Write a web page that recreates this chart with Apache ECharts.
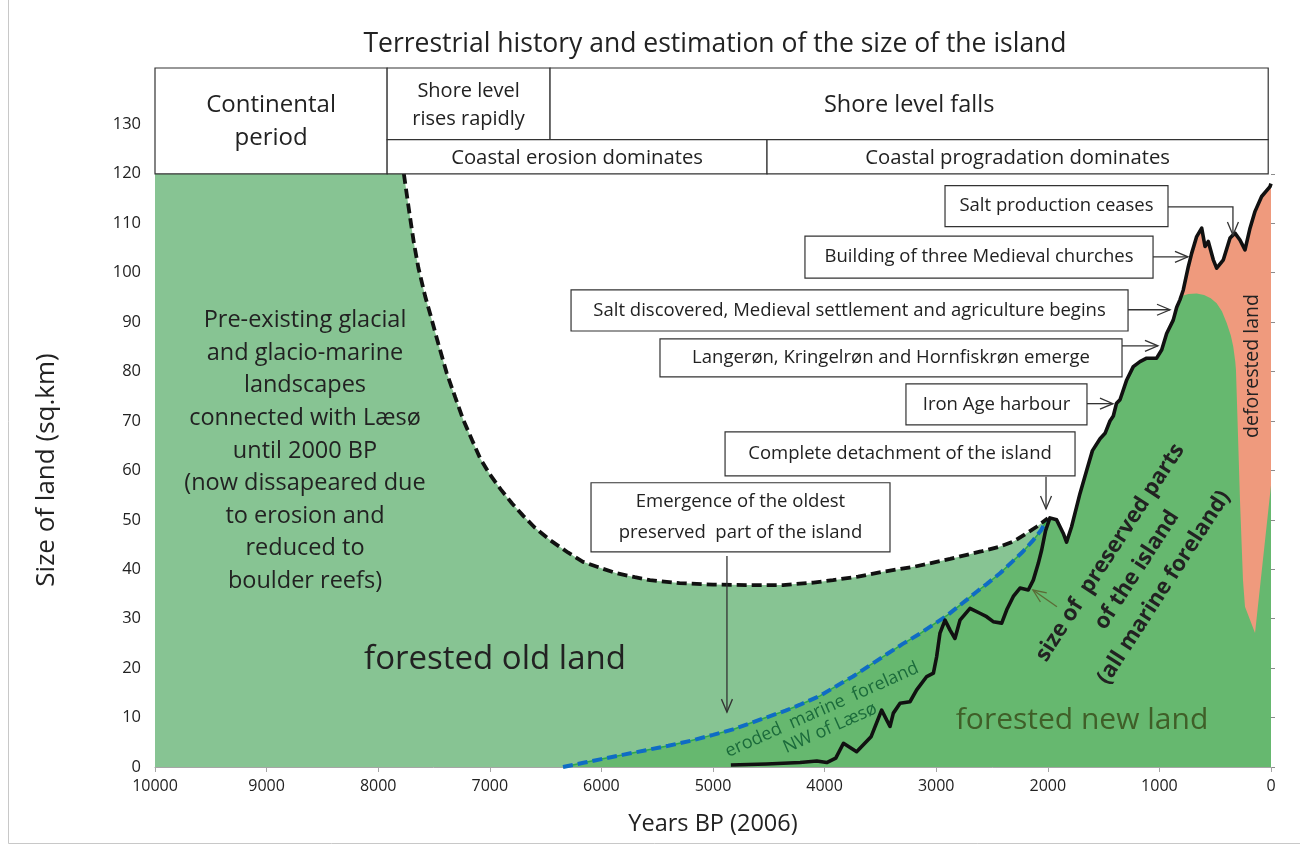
<!DOCTYPE html>
<html><head><meta charset="utf-8">
<script src="https://cdn.jsdelivr.net/npm/echarts@6/dist/echarts.min.js"></script>
<style>html,body{margin:0;padding:0;background:#fff}#c{width:1300px;height:844px}</style>
</head><body><div id="c"></div>
<script>
// ---------------- DATA (years BP, size of land in sq.km) ----------------
// Dashed black: pre-existing glacial landscape (forested old land) boundary
const oldLandEdge = [
  [7770,120],[7720,112],[7680,106],[7640,101],[7580,95.3],[7536,91.8],[7460,85.5],[7386,79.7],
  [7310,74.8],[7237,70.2],[7160,66.2],[7088,62.5],[7000,59.2],[6900,56.1],[6800,53.3],[6700,50.8],
  [6600,48.5],[6461,45.9],[6300,43.4],[6165,41.5],[6000,40.2],[5863,39.2],[5700,38.4],[5565,37.8],
  [5300,37.2],[5000,36.9],[4700,36.8],[4373,36.8],[4100,37.3],[3925,37.8],[3700,38.5],[3477,39.5],
  [3200,40.5],[2876,42.1],[2600,43.6],[2428,44.6],[2300,45.7],[2189,47.3],[2100,48.6],[2000,50.3]
];
const oldLandStart = [[10000,120]];
// Blue dashed: eroded marine foreland NW of Læsø
const erodedForeland = [
  [6344,0],[6150,0.9],[6000,1.6],[5800,2.5],[5600,3.4],[5400,4.3],[5200,5.3],[5000,6.5],
  [4821,7.6],[4650,9.0],[4500,10.2],[4350,11.4],[4220,12.6],[4041,14.4],[3900,16.3],[3746,18.3],
  [3600,20.5],[3444,22.8],[3300,24.9],[3145,27.0],[3020,28.9],[2906,30.6],[2800,32.5],[2727,33.8],
  [2640,35.4],[2548,37.0],[2428,39.2],[2320,41.5],[2222,43.6],[2130,45.9],[2060,47.9],[2010,50]
];
// Solid black: size of the island
const islandSize = [
  [4840,0.4],[4520,0.6],[4220,0.9],[4070,1.2],[3981,0.9],[3900,1.8],[3831,4.8],[3713,3.1],
  [3584,6.1],[3489,11.5],[3414,8.2],[3384,10.9],[3324,12.9],[3235,13.2],[3175,15.6],[3085,18.3],
  [3025,19.0],[2996,22.3],[2966,27.1],[2921,29.7],[2876,27.7],[2832,26.0],[2787,29.7],[2697,32.1],
  [2608,31.1],[2548,30.4],[2489,29.4],[2413,29.1],[2368,31.8],[2309,34.5],[2249,36.2],[2175,35.8],
  [2130,37.8],[2085,41.2],[2055,43.9],[2020,47.8],[1981,50.4],[1921,50.0],[1862,47.3],[1832,45.5],
  [1787,48.6],[1712,55.3],[1652,60.0],[1600,64.0],[1532,66.4],[1487,67.5],[1443,70.0],[1413,71.0],
  [1384,73.6],[1353,74.3],[1293,78.3],[1234,81.0],[1174,82.0],[1114,82.7],[1025,82.7],[979,84.4],
  [935,87.7],[876,90.4],[845,93.0],[816,94.5],[786,96.5],[741,101.2],[711,103.9],[666,107.3],
  [621,109.0],[591,105.3],[562,106.3],[517,102.6],[487,100.9],[427,102.6],[367,107.0],[323,108.0],
  [278,106.6],[233,104.6],[188,109.0],[143,112.4],[84,115.4],[9,117.4],[0,118.0]
];
// Forested part of the new land after medieval deforestation
const forestedDome = [
  [786,95.4],[740,95.7],[666,95.8],[600,95.5],[540,94.8],[487,93.8],[440,92.2],[397,89.8],
  [360,87.3],[338,85.0],[320,82.0],[314,80.3],[300,70.2],[278,54.0],[251,37.8],[233,32.4],
  [143,27.1],[0,57.0]
];
// Header periods
const periods = [
  {from:10000, to:7920, row:'both',  label:'Continental\nperiod'},
  {from:7920,  to:6460, row:'upper', label:'Shore level\nrises rapidly'},
  {from:6460,  to:25,   row:'upper', label:'Shore level falls'},
  {from:7920,  to:4516, row:'lower', label:'Coastal erosion dominates'},
  {from:4516,  to:25,   row:'lower', label:'Coastal progradation dominates'}
];
// Events
const events = [
  'Salt production ceases',
  'Building of three Medieval churches',
  'Salt discovered, Medieval settlement and agriculture begins',
  'Langerøn, Kringelrøn and Hornfiskrøn emerge',
  'Iron Age harbour',
  'Complete detachment of the island',
  'Emergence of the oldest\npreserved  part of the island'
];
const yTickValues = [0,10,20,30,40,50,60,70,80,90,100,110,120];

// ---------------- LAYOUT / STYLE ----------------
const FONT = '"Open Sans","Noto Sans",sans-serif';
const Y_HEAD_BOTTOM = 120, Y_HEAD_MID = 126.9, Y_TOP = 141.4;
const headerFontSize = [24, 20, 23.5, 20.3, 20.3];
const headerLineHeight = [33, 28, 30, 26, 26];
// event boxes in chart coordinates: [year left, year right, value top, value bottom]
const eventBoxes = [
  [2921, 923, 117.6, 109.3],
  [4176, 1057, 107.4, 98.9],
  [6272, 1281, 96.5, 88.2],
  [5475, 1335, 86.6, 78.9],
  [3271, 1649, 77.5, 69.2],
  [4892, 1756, 67.8, 58.9],
  [6093, 3414, 57.5, 43.5]
];
const eventArrows = [
  {path:[[923,113.3],[341,113.3],[341,107.6]], color:'#333'},
  {path:[[1057,103.2],[744,103.2]], color:'#333'},
  {path:[[1281,92.5],[905,92.5]], color:'#333'},
  {path:[[1335,85.2],[1013,85.2]], color:'#333'},
  {path:[[1649,73.5],[1416,73.5]], color:'#333'},
  {path:[[2016,58.7],[2016,52.2]], color:'#333'},
  {path:[[4875,42.7],[4875,11.1]], color:'#333'},
  {path:[[1918,32.4],[2133,35.8]], color:'#5b6b36'}
];

const LIGHT_GREEN = '#87c493', DARK_GREEN = '#66b86f', SALMON = '#ef9a7d';

const newLandEdge = erodedForeland.concat(
  islandSize.filter(p => p[0] < 2000 && p[0] >= 800), forestedDome);
const deforestedEdge = islandSize.filter(p => p[0] <= 850);
const oldLandArea = oldLandStart.concat(oldLandEdge);

const chart = echarts.init(document.getElementById('c'), null, {renderer:'canvas'});

function txt(text, x, y, size, opts) {
  opts = opts || {};
  return {
    type:'text', x:x, y:y, rotation: opts.rotation || 0, z: 100,
    style:{
      text:text, fill: opts.color || '#222',
      font: (opts.weight ? opts.weight + ' ' : '') + size + 'px ' + FONT,
      textAlign:'center', align:'center', textVerticalAlign:'middle', verticalAlign:'middle',
      lineHeight: opts.lineHeight || Math.round(size*1.3)
    }
  };
}

function renderHeader(params, api) {
  const i = params.dataIndex, p = periods[i];
  const y1 = p.row === 'upper' ? Y_HEAD_MID : Y_HEAD_BOTTOM;
  const y2 = p.row === 'lower' ? Y_HEAD_MID : Y_TOP;
  const a = api.coord([p.from, y2]), b = api.coord([p.to, y1]);
  const x = Math.min(a[0], b[0]), y = Math.min(a[1], b[1]);
  const w = Math.abs(b[0]-a[0]), h = Math.abs(b[1]-a[1]);
  return {type:'group', children:[
    {type:'rect', shape:{x:x, y:y, width:w, height:h}, style:{fill:'#fff', stroke:'#333', lineWidth:1.2}},
    {type:'text', style:{x:x+w/2, y:y+h/2+1, text:p.label, fill:'#222', font: headerFontSize[i]+'px '+FONT,
      textAlign:'center', align:'center', textVerticalAlign:'middle', verticalAlign:'middle',
      lineHeight: headerLineHeight[i]}}
  ]};
}

function renderEvent(params, api) {
  const b = eventBoxes[params.dataIndex];
  const a = api.coord([b[0], b[2]]), c = api.coord([b[1], b[3]]);
  const x = Math.min(a[0], c[0]), y = Math.min(a[1], c[1]);
  const w = Math.abs(c[0]-a[0]), h = Math.abs(c[1]-a[1]);
  return {type:'group', children:[
    {type:'rect', shape:{x:x, y:y, width:w, height:h}, style:{fill:'#fff', stroke:'#333', lineWidth:1.2}},
    {type:'text', style:{x:x+w/2, y:y+h/2, text:events[params.dataIndex], fill:'#222', font:'18.5px '+FONT,
      textAlign:'center', align:'center', textVerticalAlign:'middle', verticalAlign:'middle', lineHeight:31}}
  ]};
}

function renderArrow(params, api) {
  const ar = eventArrows[params.dataIndex];
  const pts = ar.path.map(p => api.coord(p));
  const n = pts.length, tip = pts[n-1], prev = pts[n-2];
  let dx = tip[0]-prev[0], dy = tip[1]-prev[1];
  const len = Math.hypot(dx, dy) || 1; dx /= len; dy /= len;
  const L = 13, W = 5.5;
  const h1 = [tip[0]-L*dx - W*dy, tip[1]-L*dy + W*dx];
  const h2 = [tip[0]-L*dx + W*dy, tip[1]-L*dy - W*dx];
  return {type:'group', children:[
    {type:'polyline', shape:{points:pts}, style:{stroke:ar.color, lineWidth:1.3, fill:'none'}},
    {type:'polyline', shape:{points:[h1, tip, h2]}, style:{stroke:ar.color, lineWidth:1.3, fill:'none'}}
  ]};
}

const option = {
  animation:false,
  backgroundColor:'#fff',
  grid:{left:155, right:29, top:68, bottom:77, containLabel:false},
  xAxis:{
    type:'value', inverse:true, min:0, max:10000, interval:1000,
    axisLine:{show:true, lineStyle:{color:'#a6a6a6', width:1}},
    axisTick:{show:true, length:5, lineStyle:{color:'#a6a6a6'}},
    axisLabel:{color:'#222', fontSize:16, fontFamily:FONT, margin:11, formatter: v => String(v)},
    splitLine:{show:false},
    name:'Years BP (2006)', nameLocation:'middle', nameGap:45,
    nameTextStyle:{color:'#222', fontSize:23.5, fontFamily:FONT}
  },
  yAxis:{
    type:'value', min:0, max:Y_TOP, interval:10,
    axisLine:{show:false},
    axisTick:{show:true, inside:true, length:4, customValues:yTickValues, lineStyle:{color:'#8c8c8c'}},
    axisLabel:{color:'#222', fontSize:16.5, fontFamily:FONT, margin:14,
      formatter: v => (v <= 130 ? String(v) : '')},
    splitLine:{show:false}
  },
  series:[
    {name:'forested old land', type:'line', data:oldLandArea, symbol:'none', z:1,
      lineStyle:{width:0}, areaStyle:{color:LIGHT_GREEN, opacity:1}},
    {name:'deforested land', type:'line', data:deforestedEdge, symbol:'none', z:2,
      lineStyle:{width:0}, areaStyle:{color:SALMON, opacity:1}},
    {name:'forested new land', type:'line', data:newLandEdge, symbol:'none', z:3,
      lineStyle:{width:0}, areaStyle:{color:DARK_GREEN, opacity:1}},
    {name:'eroded foreland edge', type:'line', data:erodedForeland, symbol:'none', z:4,
      lineStyle:{color:'#2ea84a', width:1.5}},
    {name:'eroded marine foreland', type:'line', data:erodedForeland, symbol:'none', z:5,
      lineStyle:{color:'#0f6cc4', width:4, type:[10,5]}},
    {name:'pre-existing landscape', type:'line', data:oldLandEdge, symbol:'none', z:5,
      lineStyle:{color:'#111', width:3.8, type:[10,5]}},
    {name:'island size', type:'line', data:islandSize, symbol:'none', z:6,
      lineStyle:{color:'#111', width:3.6, join:'round'}},
    {type:'custom', name:'periods', clip:false, silent:true, z:10,
      data: periods.map(p => [p.from, Y_HEAD_BOTTOM]), renderItem: renderHeader},
    {type:'custom', name:'events', clip:false, silent:true, z:10,
      data: eventBoxes.map(b => [b[0], b[2]]), renderItem: renderEvent},
    {type:'custom', name:'arrows', clip:false, silent:true, z:11,
      data: eventArrows.map(a => a.path[0]), renderItem: renderArrow}
  ],
  graphic:[
    {type:'line', shape:{x1:8.5, y1:0, x2:8.5, y2:843.5}, style:{stroke:'#c8c8c8', lineWidth:1}},
    {type:'line', shape:{x1:8.5, y1:843.5, x2:1300, y2:843.5}, style:{stroke:'#c8c8c8', lineWidth:1}},
    txt('Terrestrial history and estimation of the size of the island', 715, 44, 26.5),
    txt('Size of land (sq.km)', 47, 470, 26, {rotation:Math.PI/2}),
    txt('Pre-existing glacial\nand glacio-marine\nlandscapes\nconnected with Læsø\nuntil 2000 BP\n(now dissapeared due\nto erosion and\nreduced to\nboulder reefs)',
        305, 451, 23.5, {lineHeight:32.6}),
    txt('forested old land', 495, 660, 33),
    txt('forested new land', 1082, 720, 30, {color:'#3f5f28'}),
    txt('eroded  marine  foreland\nNW of Læsø', 826, 719, 18, {color:'#1b6b3b', rotation:24*Math.PI/180, lineHeight:20}),
    txt('size of  preserved parts\nof the island\n(all marine foreland)', 1137, 570, 22,
        {weight:'bold', rotation:57*Math.PI/180, lineHeight:32}),
    txt('deforested land', 1252, 366, 19.5, {rotation:Math.PI/2})
  ]
};
chart.setOption(option);
</script>
</body></html>
